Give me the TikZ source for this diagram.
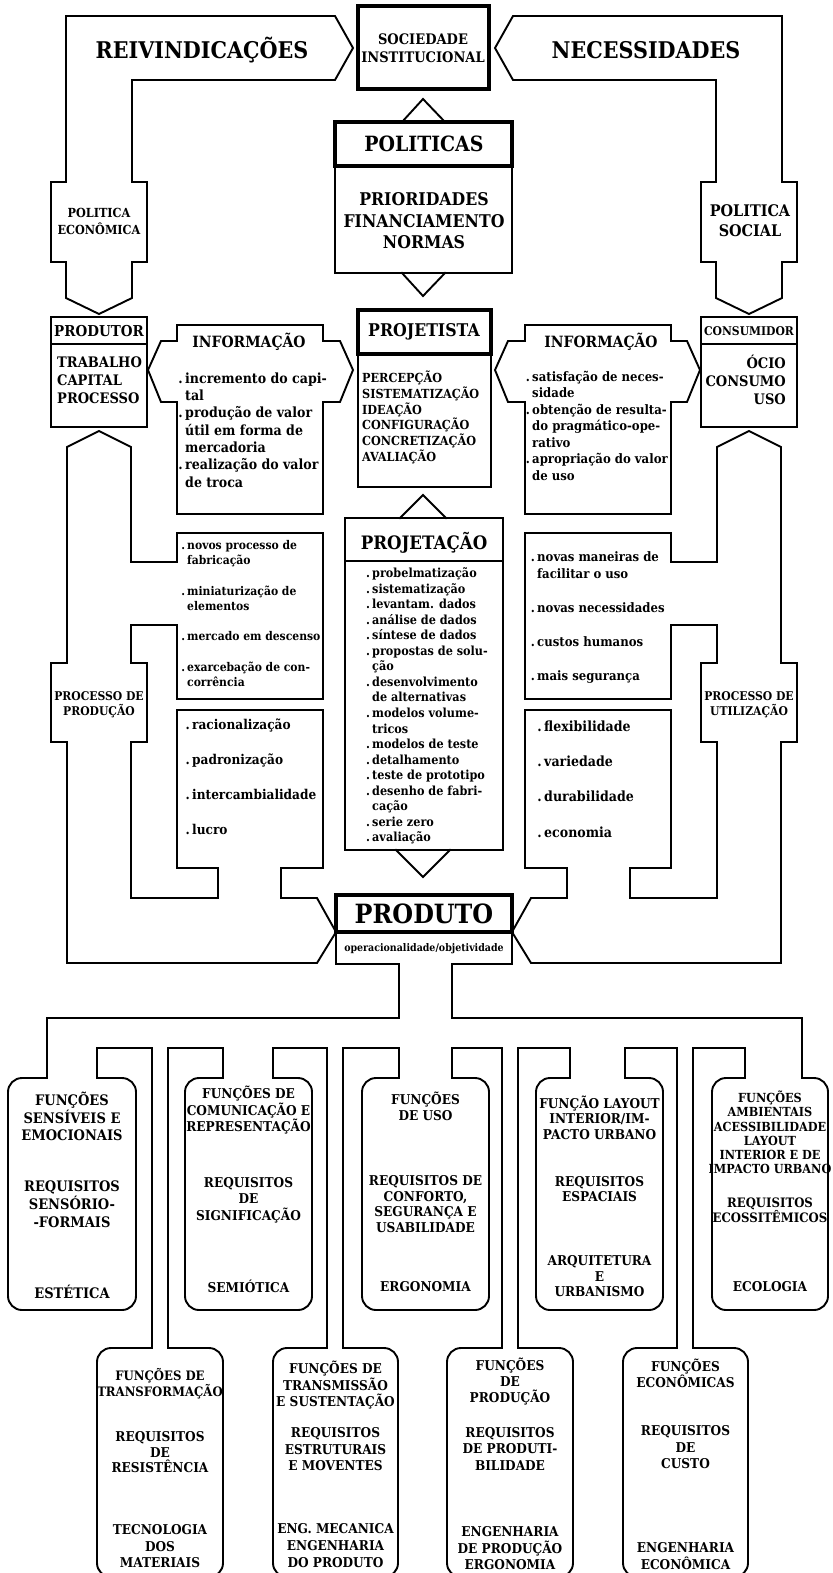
\documentclass[tikz,border=0pt]{standalone}
\usepackage{fontspec}
\setmainfont{DejaVu Serif}[FakeStretch=0.9]
\usetikzlibrary{positioning}
\newcommand{\sz}[2]{\fontsize{#1}{#2}\selectfont\bfseries}
\newcommand{\dotitem}{\leavevmode\llap{.\,}}

\begin{document}
\begin{tikzpicture}[x=1pt, y=-1pt,
  every node/.style={inner sep=0pt, align=center},
  edge/.style={line width=1.9pt, line cap=rect},
  heavy/.style={line width=4.2pt},
  soft/.style={line width=1.9pt, line cap=rect, rounded corners=14pt},
  itm/.style={anchor=west, align=left},
  fn/.style={font=\sz{13.5}{16.5}}
]
  \useasboundingbox (0,0) rectangle (832,1573);

  % left half of the loops, mirrored for the right half
  \foreach \sgn/\off in {1/0, -1/848}{
    \begin{scope}[xshift=\off pt, xscale=\sgn]
      \draw[edge] (66,16) -- (335,16) -- (353,48) -- (335,80) -- (132,80) -- (132,182)
        -- (147,182) -- (147,262) -- (132,262) -- (132,298) -- (99,314) -- (66,298)
        -- (66,262) -- (51,262) -- (51,182) -- (66,182) -- cycle;
      \draw[edge] (51,317) rectangle (147,427);
      \draw[edge] (51,344) -- (147,344);
      \draw[edge] (177,325) -- (323,325) -- (323,341) -- (340,341) -- (353,370) -- (340,402)
        -- (323,402) -- (323,514) -- (177,514) -- (177,402) -- (161,402) -- (148,370)
        -- (161,341) -- (177,341) -- cycle;
      \draw[edge] (177,625) -- (177,699) -- (323,699) -- (323,533) -- (177,533) -- (177,562)
        -- (131,562) -- (131,447) -- (99,431) -- (67,447) -- (67,663) -- (51,663)
        -- (51,742) -- (67,742) -- (67,963) -- (317,963) -- (336,932) -- (317,898)
        -- (281,898) -- (281,868) -- (323,868) -- (323,710) -- (177,710) -- (177,868)
        -- (218,868) -- (218,898) -- (131,898) -- (131,742) -- (147,742) -- (147,663)
        -- (131,663) -- (131,625) -- cycle;
    \end{scope}
  }

  % centre column
  \draw[heavy] (358,6) rectangle (489,89);
  \draw[edge] (402,122) -- (423,99) -- (445,122);
  \draw[heavy] (335,122) rectangle (512,166);
  \draw[edge] (335,166) rectangle (512,273);
  \draw[edge] (402,273) -- (423,296) -- (445,273);
  \draw[heavy] (358,310) rectangle (491,354);
  \draw[edge] (358,354) rectangle (491,487);
  \draw[edge] (400,518) -- (423,495) -- (446,518);
  \draw[edge] (345,518) rectangle (503,850);
  \draw[edge] (345,561) -- (503,561);
  \draw[edge] (396,850) -- (423,877) -- (450,850);
  \draw[heavy] (336,895) rectangle (512,932);

  % distribution to the functions
  \draw[edge] (336,932) -- (336,964) -- (399,964) -- (399,1018) -- (47,1018) -- (47,1078);
  \draw[edge] (512,932) -- (512,964) -- (452,964) -- (452,1018) -- (802,1018) -- (802,1078);
  \foreach \pa/\ua/\pb/\ub in {97/1078/152/1348, 168/1348/223/1078, 273/1078/327/1348,
      343/1348/399/1078, 452/1078/502/1348, 518/1348/570/1078, 625/1078/677/1348,
      693/1348/745/1078}
    \draw[edge] (\pa,\ua) -- (\pa,1048) -- (\pb,1048) -- (\pb,\ub);
  \foreach \xl/\xr/\ga/\gb in {8/136/47/97, 185/312/223/273, 362/489/399/452,
      536/663/570/625, 712/828/745/802}
    \draw[soft] (\gb,1078) -- (\xr,1078) -- (\xr,1310) -- (\xl,1310) -- (\xl,1078) -- (\ga,1078);
  \foreach \xl/\xr/\ga/\gb in {97/223/152/168, 273/398/327/343, 447/573/502/518,
      623/748/677/693}
    \draw[soft] (\gb,1348) -- (\xr,1348) -- (\xr,1577) -- (\xl,1577) -- (\xl,1348) -- (\ga,1348);

  % top
  \node[font=\sz{23}{26}] (reiv) at (202,50) {REIVINDICAÇÕES};
  \node[font=\sz{23}{26}] (nec) at (646,50) {NECESSIDADES};
  \node[font=\sz{14.5}{18}] (soc) at (423,48) {SOCIEDADE\\INSTITUCIONAL};
  \node[font=\sz{21}{24}] (pol) at (424,144) {POLITICAS};
  \node[font=\sz{17.5}{21.5}] (prio) at (424,221) {PRIORIDADES\\FINANCIAMENTO\\NORMAS};
  \node[font=\sz{12.5}{17}] (pecon) at (99,221) {POLITICA\\ECONÔMICA};
  \node[font=\sz{16}{20}] (psoc) at (750,221) {POLITICA\\SOCIAL};

  % producer, designer, consumer
  \node[font=\sz{15}{18}] (prodr) at (99,331) {PRODUTOR};
  \node[itm, font=\sz{14.5}{18}] (trab) at (57,380) {TRABALHO\\CAPITAL\\PROCESSO};
  \node[font=\sz{12}{15}] (cons) at (749,331) {CONSUMIDOR};
  \node[anchor=east, align=right, font=\sz{14.5}{18}] (ocio) at (786,380) {ÓCIO\\CONSUMO\\USO};
  \node[font=\sz{15.5}{18}] (infl) at (249,342) {INFORMAÇÃO};
  \node[itm, font=\sz{14}{17.3}] (infll) at (185,430) {\dotitem incremento do capi-\\tal\\
    \dotitem produção de valor\\útil em forma de\\mercadoria\\\dotitem realização do valor\\de troca};
  \node[font=\sz{15.5}{18}] (infr) at (601,342) {INFORMAÇÃO};
  \node[itm, font=\sz{13}{16.5}] (infrl) at (532,425.5) {\dotitem satisfação de neces-\\sidade\\
    \dotitem obtenção de resulta-\\do pragmático-ope-\\rativo\\\dotitem apropriação do valor\\de uso};
  \node[font=\sz{17.5}{20}] (proj) at (424,332) {PROJETISTA};
  \node[itm, font=\sz{12.5}{15.8}] (projl) at (362,417.5) {PERCEPÇÃO\\SISTEMATIZAÇÃO\\IDEAÇÃO\\
    CONFIGURAÇÃO\\CONCRETIZAÇÃO\\AVALIAÇÃO};
  \node[font=\sz{18.5}{21}] (pjc) at (424,543) {PROJETAÇÃO};
  \node[itm, font=\sz{12.5}{15.53}] (pjcl) at (372,706) {\dotitem probelmatização\\
    \dotitem sistematização\\\dotitem levantam. dados\\\dotitem análise de dados\\
    \dotitem síntese de dados\\\dotitem propostas de solu-\\ção\\\dotitem desenvolvimento\\
    de alternativas\\\dotitem modelos volume-\\tricos\\\dotitem modelos de teste\\
    \dotitem detalhamento\\\dotitem teste de prototipo\\\dotitem desenho de fabri-\\cação\\
    \dotitem serie zero\\\dotitem avaliação};

  % side boxes
  \node[itm, font=\sz{12}{15}] (novos) at (187,613.5) {\dotitem novos processo de\\fabricação\\[16pt]
    \dotitem miniaturização de\\elementos\\[15pt]\dotitem mercado em descenso\\[16pt]
    \dotitem exarcebação de con-\\corrência};
  \node[itm, font=\sz{13.5}{35}] (racio) at (192,777) {\dotitem racionalização\\
    \dotitem padronização\\\dotitem intercambialidade\\\dotitem lucro};
  \node[itm, font=\sz{13}{17}] (novas) at (537,617) {\dotitem novas maneiras de\\facilitar o uso\\[17pt]
    \dotitem novas necessidades\\[17pt]\dotitem custos humanos\\[17pt]\dotitem mais segurança};
  \node[itm, font=\sz{14}{35.3}] (flex) at (544,779) {\dotitem flexibilidade\\
    \dotitem variedade\\\dotitem durabilidade\\\dotitem economia};
  \node[font=\sz{12}{15}] (pprod) at (99,704.5) {PROCESSO DE\\PRODUÇÃO};
  \node[font=\sz{12}{15}] (putil) at (749,704.5) {PROCESSO DE\\UTILIZAÇÃO};

  % product
  \node[font=\sz{26.5}{30}] (prod) at (424,914) {PRODUTO};
  \node[font=\sz{10.5}{12}] (oper) at (424,949) {operacionalidade/objetividade};

  % functions, first row
  \node[font=\sz{14.5}{17.5}] (sensa) at (72,1116.5) {FUNÇÕES\\SENSÍVEIS E\\EMOCIONAIS};
  \node[font=\sz{14.5}{18}] (sensb) at (72,1204) {REQUISITOS\\SENSÓRIO-\\-FORMAIS};
  \node[font=\sz{14.5}{17}] (sensc) at (72,1292) {ESTÉTICA};
  \node[fn] (coma) at (248.5,1110.5) {FUNÇÕES DE\\COMUNICAÇÃO E\\REPRESENTAÇÃO};
  \node[fn] (comb) at (248.5,1200) {REQUISITOS\\DE\\SIGNIFICAÇÃO};
  \node[fn] (comc) at (248.5,1286) {SEMIÓTICA};
  \node[fn] (usoa) at (425.5,1106.5) {FUNÇÕES\\DE USO};
  \node[fn, font=\sz{13.5}{15.7}] (usob) at (425.5,1204) {REQUISITOS DE\\CONFORTO,\\SEGURANÇA E\\USABILIDADE};
  \node[fn] (usoc) at (425.5,1287) {ERGONOMIA};
  \node[fn, font=\sz{13.5}{15.5}] (laya) at (599.5,1117.5) {FUNÇÃO LAYOUT\\INTERIOR/IM-\\PACTO URBANO};
  \node[fn, font=\sz{13.5}{15}] (layb) at (599.5,1189.5) {REQUISITOS\\ESPACIAIS};
  \node[fn, font=\sz{13.5}{15.5}] (layc) at (599.5,1276.5) {ARQUITETURA\\E\\URBANISMO};
  \node[fn, font=\sz{12.5}{14.2}] (amba) at (770,1132.5) {FUNÇÕES\\AMBIENTAIS\\ACESSIBILIDADE\\
    LAYOUT\\INTERIOR E DE\\IMPACTO URBANO};
  \node[fn, font=\sz{13}{15}] (ambb) at (770,1210.5) {REQUISITOS\\ECOSSITÊMICOS};
  \node[fn] (ambc) at (770,1287) {ECOLOGIA};

  % functions, second row
  \node[fn, font=\sz{13}{16}] (trfa) at (160,1384) {FUNÇÕES DE\\TRANSFORMAÇÃO};
  \node[fn, font=\sz{13.5}{15.5}] (trfb) at (160,1452.5) {REQUISITOS\\DE\\RESISTÊNCIA};
  \node[fn] (trfc) at (160,1546.5) {TECNOLOGIA\\DOS\\MATERIAIS};
  \node[fn] (trma) at (335.5,1385.5) {FUNÇÕES DE\\TRANSMISSÃO\\E SUSTENTAÇÃO};
  \node[fn] (trmb) at (335.5,1449.5) {REQUISITOS\\ESTRUTURAIS\\E MOVENTES};
  \node[fn, font=\sz{13.5}{17}] (trmc) at (335.5,1546) {ENG. MECANICA\\ENGENHARIA\\DO PRODUTO};
  \node[fn, font=\sz{13.5}{16}] (pdca) at (510,1382) {FUNÇÕES\\DE\\PRODUÇÃO};
  \node[fn] (pdcb) at (510,1448.5) {REQUISITOS\\DE PRODUTI-\\BILIDADE};
  \node[fn] (pdcc) at (510,1548.5) {ENGENHARIA\\DE PRODUÇÃO\\ERGONOMIA};
  \node[fn, font=\sz{13.5}{16}] (ecoa) at (685.5,1373) {FUNÇÕES\\ECONÔMICAS};
  \node[fn] (ecob) at (685.5,1447.5) {REQUISITOS\\DE\\CUSTO};
  \node[fn, font=\sz{13.5}{17}] (ecoc) at (685.5,1556.5) {ENGENHARIA\\ECONÔMICA};
\end{tikzpicture}
\end{document}
